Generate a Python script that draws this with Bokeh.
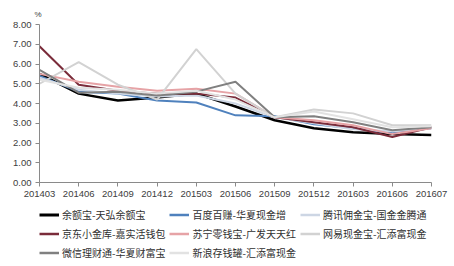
from bokeh.plotting import figure
from bokeh.layouts import column
from bokeh.models import Range1d, FixedTicker, PrintfTickFormatter, Legend, LegendItem
from bokeh.embed import file_html
from bokeh.resources import INLINE

periods = ["201403", "201406", "201409", "201412", "201503", "201506",
           "201509", "201512", "201603", "201606", "201607"]

yuebao   = [5.50, 4.50, 4.15, 4.30, 4.50, 3.85, 3.15, 2.75, 2.55, 2.45, 2.40]
baidu    = [5.40, 4.60, 4.50, 4.15, 4.05, 3.40, 3.35, 2.95, 2.75, 2.50, 2.75]
tencent  = [5.30, 4.70, 4.50, 4.35, 4.40, 4.00, 3.30, 3.00, 2.70, 2.60, 2.75]
jd       = [6.90, 4.95, 4.65, 4.50, 4.50, 4.30, 3.30, 3.05, 2.80, 2.30, 2.80]
suning   = [5.50, 5.10, 4.85, 4.65, 4.75, 4.50, 3.30, 3.15, 2.90, 2.45, 2.75]
netease  = [5.00, 6.10, 4.95, 4.20, 6.75, 4.50, 3.30, 3.70, 3.50, 2.90, 2.90]
wechat   = [5.70, 4.55, 4.60, 4.40, 4.60, 5.10, 3.30, 3.35, 3.05, 2.65, 2.80]
sina     = [5.20, 4.80, 4.70, 4.50, 4.65, 4.20, 3.30, 3.60, 3.20, 2.80, 2.85]

names = ["余额宝-天弘余额宝", "百度百赚-华夏现金增", "腾讯佣金宝-国金金腾通",
         "京东小金库-嘉实活钱包", "苏宁零钱宝-广发天天红", "网易现金宝-汇添富现金",
         "微信理财通-华夏财富宝", "新浪存钱罐-汇添富现金"]
series = [yuebao, baidu, tencent, jd, suning, netease, wechat, sina]
colors = ["#000000", "#4f81bd", "#cdd6e4", "#7a2c3a", "#e6a3a6", "#d2d2d2", "#808080", "#e2e2e2"]
widths = [2.5, 2, 2, 2, 2, 2, 2, 2]

yticks = [0, 1, 2, 3, 4, 5, 6, 7, 8]

p = figure(width=454, height=205, output_backend="svg", toolbar_location=None,
           x_range=Range1d(0, len(periods) - 1), y_range=Range1d(0, 8),
           min_border_left=39, min_border_right=23, min_border_top=24, min_border_bottom=23)
p.outline_line_color = None
p.xgrid.visible = False
p.ygrid.visible = False

p.title.text = "%"
p.title.align = "left"
p.title.vertical_align = "top"
p.title.offset = -5
p.title.text_font = "Liberation Sans"
p.title.text_font_size = "8px"
p.title.text_font_style = "normal"
p.title.text_color = "#404040"
p.title.standoff = 8

xs = list(range(len(periods)))
for ys, c, w in zip(series, colors, widths):
    p.line(xs, ys, line_color=c, line_width=w)

font = "Liberation Sans"
for ax in (p.xaxis[0], p.yaxis[0]):
    ax.axis_line_color = "#8a8a8a"
    ax.major_tick_line_color = "#8a8a8a"
    ax.major_tick_out = 4
    ax.major_tick_in = 0
    ax.minor_tick_line_color = None
    ax.major_label_text_font = font
    ax.major_label_text_font_size = "9.5px"
    ax.major_label_text_color = "#404040"

p.xaxis.ticker = FixedTicker(ticks=xs)
p.xaxis.major_label_overrides = {i: s for i, s in enumerate(periods)}
p.xaxis.major_label_standoff = 4
p.yaxis.ticker = FixedTicker(ticks=yticks)
p.yaxis.formatter = PrintfTickFormatter(format="%.2f")
p.yaxis.major_label_standoff = 4

# legend figure (column-major ordering to match the reference's row order)
lg = figure(width=454, height=61, output_backend="svg", toolbar_location=None,
            x_range=Range1d(0, 1), y_range=Range1d(0, 1),
            x_axis_location=None, y_axis_location=None,
            min_border_left=0, min_border_right=0, min_border_top=0, min_border_bottom=0)
lg.outline_line_color = None
lg.xgrid.visible = False
lg.ygrid.visible = False
renderers = []
for c, w in zip(colors, widths):
    renderers.append(lg.line([-10, -9], [-10, -10], line_color=c, line_width=w + 0.5))
order = [0, 3, 6, 1, 4, 7, 2, 5]
items = [LegendItem(label=names[i], renderers=[renderers[i]]) for i in order]
legend = Legend(items=items, ncols=3, location=(0, 6),
                label_text_font="Noto Sans CJK SC", label_text_font_size="10px",
                label_text_color="#303030",
                glyph_width=20, glyph_height=15, label_height=15, label_standoff=3,
                spacing=4, padding=0, margin=0,
                border_line_color=None, background_fill_alpha=0)
lg.add_layout(legend, "center")

layout = column(p, lg, spacing=0)
open("out.html", "w").write(file_html(layout, INLINE))
